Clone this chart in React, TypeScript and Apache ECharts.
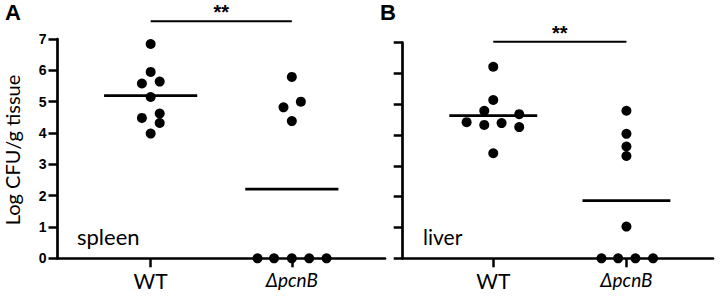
import React, { useEffect, useRef } from "react";
import * as echarts from "echarts";

const categories = ["WT", "ΔpcnB"];
const yTickValues = [0, 1, 2, 3, 4, 5, 6, 7];

// Spleen (panel A)
const spleenWT = [6.84, 5.95, 5.58, 5.64, 5.15, 4.48, 4.62, 4.32, 3.98];
const spleenWTJitter = [0, 0, -0.062, 0.064, 0, -0.062, 0.064, 0.064, 0];
const spleenKO = [5.79, 5.0, 4.82, 4.38, 0, 0, 0, 0, 0];
const spleenKOJitter = [0, 0.064, -0.059, 0, -0.243, -0.126, 0, 0.123, 0.246];
const spleenMeans = [5.19, 2.21];

// Liver (panel B)
const liverWT = [6.22, 5.14, 4.79, 4.68, 4.42, 4.33, 4.39, 4.26, 3.41];
const liverWTJitter = [0, 0, -0.0675, 0.195, -0.2, -0.0675, 0.0625, 0.195, 0];
const liverKO = [4.79, 4.04, 3.63, 3.32, 1.03, 0, 0, 0, 0];
const liverKOJitter = [0, 0, 0, 0, 0, -0.1875, -0.0625, 0.0675, 0.2];
const liverMeans = [4.63, 1.87];

const sigLevelA = 7.57;
const sigLevelB = 7.03;
const sigText = "**";

const FONT = "Lato";

function pts(vals: number[], jit: number[], cat: number) {
  return vals.map((v, i) => [cat + jit[i], v]);
}

export default function App() {
  const ref = useRef<HTMLDivElement>(null);
  useEffect(() => {
    document.body.style.margin = "0";
    if (!ref.current) return;
    const chart = echarts.init(ref.current, null, { renderer: "svg" });
    const halfW = 0.33;
    const xAxisBase = (min: number, max: number, gridIndex: number) => ({
      type: "value",
      gridIndex,
      min,
      max,
      splitLine: { show: false },
      axisLine: { show: true, onZero: false, lineStyle: { color: "#000", width: 2.7 } },
      axisTick: { show: true, customValues: [1, 2], length: 9, lineStyle: { color: "#000", width: 2.5 } },
      axisLabel: {
        show: true,
        customValues: [1, 2],
        margin: 12,
        formatter: (v: number) => {
          const c = categories[Math.round(v) - 1] || "";
          return c.startsWith("Δ") ? "{i|" + c + "}" : "{n|" + c + "}";
        },
        rich: {
          n: { fontFamily: FONT, fontSize: 21, color: "#000" },
          i: { fontFamily: FONT, fontSize: 19, color: "#000", fontStyle: "italic" },
        },
      },
    });
    const yAxisBase = (gridIndex: number, showLabel: boolean, tickLen: number) => ({
      type: "value",
      gridIndex,
      min: 0,
      max: 7,
      interval: 1,
      splitLine: { show: false },
      axisLine: { show: true, onZero: false, lineStyle: { color: "#000", width: 2.7 } },
      axisTick: { show: true, length: tickLen, lineStyle: { color: "#000", width: 2.5 } },
      axisLabel: {
        show: showLabel,
        margin: 11,
        color: "#000",
        fontFamily: "Liberation Sans",
        fontWeight: "bold",
        fontSize: 14,
        formatter: (v: number) => (yTickValues.includes(v) ? String(v) : ""),
      },
    });
    const scatter = (data: number[][], idx: number) => ({
      type: "scatter",
      xAxisIndex: idx,
      yAxisIndex: idx,
      data,
      symbolSize: 10,
      itemStyle: { color: "#000", opacity: 1 },
      clip: false,
      z: 5,
    });
    const hline = (cat: number, v: number, idx: number, hw: number, w: number) => ({
      type: "line",
      xAxisIndex: idx,
      yAxisIndex: idx,
      data: [
        [cat - hw, v],
        [cat + hw, v],
      ],
      symbol: "none",
      clip: false,
      lineStyle: { color: "#000", width: w },
      z: 4,
    });
    const option: any = {
      animation: false,
      grid: [
        { left: 57.5, top: 39, width: 327.5, height: 219.3 },
        { left: 402.7, top: 42.7, width: 310.3, height: 215.6 },
      ],
      xAxis: [xAxisBase(0.34, 2.66, 0), xAxisBase(0.32, 2.65, 1)],
      yAxis: [yAxisBase(0, true, 9), yAxisBase(1, false, 9)],
      series: [
        scatter(pts(spleenWT, spleenWTJitter, 1), 0),
        scatter(pts(spleenKO, spleenKOJitter, 2), 0),
        hline(1, spleenMeans[0], 0, halfW, 2.7),
        hline(2, spleenMeans[1], 0, halfW, 2.7),
        hline(1.5, sigLevelA, 0, 0.5, 2),
        scatter(pts(liverWT, liverWTJitter, 1), 1),
        scatter(pts(liverKO, liverKOJitter, 2), 1),
        hline(1, liverMeans[0], 1, halfW, 2.7),
        hline(2, liverMeans[1], 1, halfW, 2.7),
        hline(1.5, sigLevelB, 1, 0.5, 2),
      ],
    };
    chart.setOption(option);
    const pA = chart.convertToPixel({ gridIndex: 0 }, [1.5, sigLevelA]) as number[];
    const pB = chart.convertToPixel({ gridIndex: 1 }, [1.5, sigLevelB]) as number[];
    chart.setOption({
      graphic: [
        { type: "text", left: 5, top: 1, style: { text: "A", font: "bold 22px 'Liberation Sans'", fill: "#000" } },
        { type: "text", left: 380, top: 1, style: { text: "B", font: "bold 22px 'Liberation Sans'", fill: "#000" } },
        {
          type: "text",
          x: pA[0],
          y: pA[1] + 1,
          style: { text: sigText, font: "bold 20px 'Liberation Sans'", fill: "#000", align: "center", verticalAlign: "bottom" },
        },
        {
          type: "text",
          x: pB[0],
          y: pB[1] + 1,
          style: { text: sigText, font: "bold 20px 'Liberation Sans'", fill: "#000", align: "center", verticalAlign: "bottom" },
        },
        {
          type: "text",
          x: 12,
          y: 150,
          rotation: Math.PI / 2,
          style: { text: "Log CFU/g tissue", font: `20px ${FONT}`, fill: "#000", align: "center", verticalAlign: "middle" },
        },
        { type: "text", x: 77, y: 236.5, style: { text: "spleen", font: `22px ${FONT}`, fill: "#000", verticalAlign: "middle" } },
        { type: "text", x: 423, y: 236.5, style: { text: "liver", font: `21px ${FONT}`, fill: "#000", verticalAlign: "middle" } },
      ],
    });
    return () => chart.dispose();
  }, []);
  return <div ref={ref} style={{ width: 720, height: 299 }} />;
}
